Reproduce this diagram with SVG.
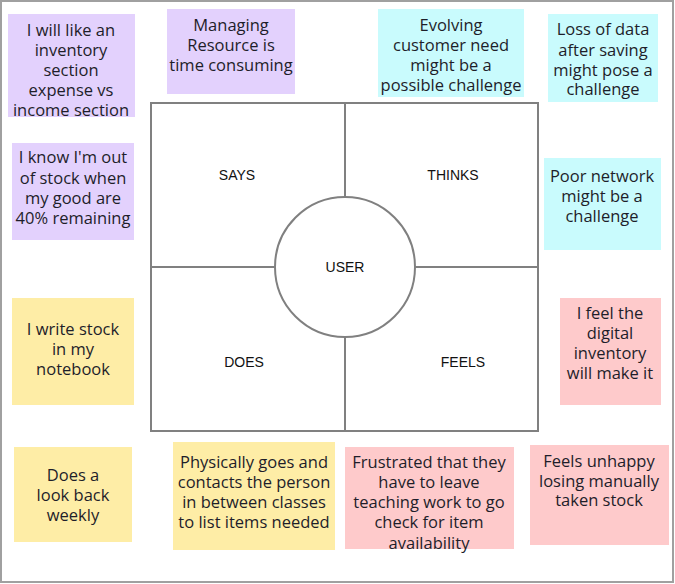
<svg xmlns="http://www.w3.org/2000/svg" width="675" height="584" viewBox="0 0 675 584">
  <style>
    .frame { fill: #ffffff; stroke: #a0a0a0; stroke-width: 2; }
    .grid { fill: none; stroke: #808080; stroke-width: 2; }
    .hub { fill: #ffffff; stroke: #808080; stroke-width: 2; }
    .label { font-family: Arial, "Liberation Sans", sans-serif; font-size: 14px; fill: #111111; text-anchor: middle; }
    .note text { font-family: "Open Sans", "Noto Sans", sans-serif; font-size: 16.5px; fill: #1e1e2a; text-anchor: middle; }
    .purple { fill: #e3d1fd; }
    .cyan { fill: #c9fbfd; }
    .yellow { fill: #feeda6; }
    .pink { fill: #fecacb; }
  </style>

  <rect class="frame" x="1" y="1" width="672" height="581"/>

  <!-- empathy map quadrants -->
  <g id="connectors">
    <rect class="grid" x="151" y="103" width="387" height="328"/>
    <line class="grid" x1="345" y1="103" x2="345" y2="431"/>
    <line class="grid" x1="151" y1="267" x2="538" y2="267"/>
  </g>

  <g id="user">
    <circle class="hub" cx="345" cy="267" r="70"/>
    <text class="label" x="345" y="272">USER</text>
  </g>
  <g id="says"><text class="label" x="237" y="180">SAYS</text></g>
  <g id="thinks"><text class="label" x="453" y="180">THINKS</text></g>
  <g id="does"><text class="label" x="244" y="367">DOES</text></g>
  <g id="feels"><text class="label" x="463" y="367">FEELS</text></g>

  <!-- SAYS notes -->
  <g id="note-inventory-section" class="note">
    <rect class="purple" x="8" y="14" width="127" height="103"/>
    <text x="71"><tspan x="71" y="36">I will like an</tspan><tspan x="71" y="56">inventory</tspan><tspan x="71" y="76">section</tspan><tspan x="71" y="96">expense vs</tspan><tspan x="71" y="116">income section</tspan></text>
  </g>
  <g id="note-managing-resource" class="note">
    <rect class="purple" x="167" y="9" width="128" height="85"/>
    <text><tspan x="231" y="31">Managing</tspan><tspan x="231" y="51">Resource is</tspan><tspan x="231" y="71">time consuming</tspan></text>
  </g>
  <g id="note-out-of-stock" class="note">
    <rect class="purple" x="12" y="143" width="122" height="97"/>
    <text><tspan x="73" y="163">I know I'm out</tspan><tspan x="73" y="184">of stock when</tspan><tspan x="73" y="204">my good are</tspan><tspan x="73" y="224">40% remaining</tspan></text>
  </g>

  <!-- THINKS notes -->
  <g id="note-evolving-need" class="note">
    <rect class="cyan" x="378" y="9" width="146" height="88"/>
    <text><tspan x="451" y="31">Evolving</tspan><tspan x="451" y="51">customer need</tspan><tspan x="451" y="71">might be a</tspan><tspan x="451" y="91">possible challenge</tspan></text>
  </g>
  <g id="note-data-loss" class="note">
    <rect class="cyan" x="548" y="14" width="110" height="88"/>
    <text><tspan x="603" y="35">Loss of data</tspan><tspan x="603" y="56">after saving</tspan><tspan x="603" y="76">might pose a</tspan><tspan x="603" y="95">challenge</tspan></text>
  </g>
  <g id="note-poor-network" class="note">
    <rect class="cyan" x="544" y="158" width="117" height="92"/>
    <text><tspan x="602" y="182">Poor network</tspan><tspan x="602" y="202">might be a</tspan><tspan x="602" y="222">challenge</tspan></text>
  </g>

  <!-- DOES notes -->
  <g id="note-notebook" class="note">
    <rect class="yellow" x="12" y="298" width="122" height="107"/>
    <text><tspan x="73" y="335">I write stock</tspan><tspan x="73" y="355">in my</tspan><tspan x="73" y="375">notebook</tspan></text>
  </g>
  <g id="note-look-back" class="note">
    <rect class="yellow" x="14" y="447" width="118" height="95"/>
    <text><tspan x="73" y="481">Does a</tspan><tspan x="73" y="501">look back</tspan><tspan x="73" y="521">weekly</tspan></text>
  </g>
  <g id="note-physically-goes" class="note">
    <rect class="yellow" x="173" y="442" width="162" height="108"/>
    <text><tspan x="254" y="468">Physically goes and</tspan><tspan x="254" y="488">contacts the person</tspan><tspan x="254" y="508">in between classes</tspan><tspan x="254" y="528">to list items needed</tspan></text>
  </g>

  <!-- FEELS notes -->
  <g id="note-digital-inventory" class="note">
    <rect class="pink" x="560" y="298" width="101" height="107"/>
    <text><tspan x="610" y="319">I feel the</tspan><tspan x="610" y="339">digital</tspan><tspan x="610" y="359">inventory</tspan><tspan x="610" y="379">will make it</tspan></text>
  </g>
  <g id="note-frustrated" class="note">
    <rect class="pink" x="345" y="447" width="169" height="102"/>
    <text><tspan x="429" y="468">Frustrated that they</tspan><tspan x="429" y="488">have to leave</tspan><tspan x="429" y="508">teaching work to go</tspan><tspan x="429" y="528">check for item</tspan><tspan x="429" y="549">availability</tspan></text>
  </g>
  <g id="note-unhappy" class="note">
    <rect class="pink" x="530" y="445" width="139" height="100"/>
    <text><tspan x="599" y="467">Feels unhappy</tspan><tspan x="599" y="487">losing manually</tspan><tspan x="599" y="506">taken stock</tspan></text>
  </g>
</svg>
